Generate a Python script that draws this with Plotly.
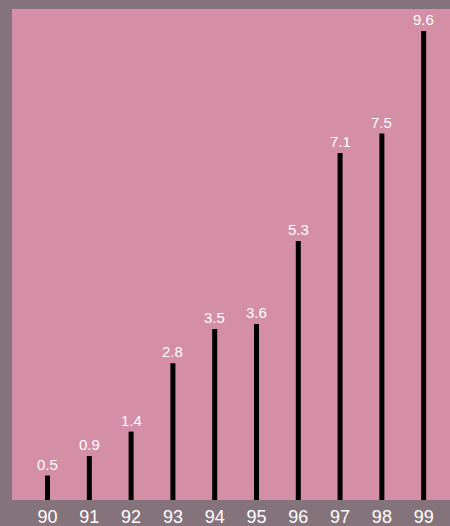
import plotly.graph_objects as go

# Yearly values, 1990-1999
years = [90, 91, 92, 93, 94, 95, 96, 97, 98, 99]
values = [0.5, 0.9, 1.4, 2.8, 3.5, 3.6, 5.3, 7.1, 7.5, 9.6]
tick_labels = ["90", "91", "92", "93", "94", "95", "96", "97", "98", "99"]

FONT = "Liberation Sans, Arial, Helvetica, sans-serif"

fig = go.Figure(
    go.Bar(
        x=years,
        y=values,
        width=0.12,
        marker=dict(color="#000000", line=dict(width=0)),
        hoverinfo="skip",
    )
)

# value labels sitting just above each bar
for yr, v in zip(years, values):
    fig.add_annotation(
        x=yr,
        y=v,
        text=f"{v:.1f}",
        showarrow=False,
        xanchor="center",
        yanchor="bottom",
        yshift=1,
        font=dict(color="#ffffff", size=15, family=FONT),
    )

fig.update_layout(
    width=450,
    height=526,
    margin=dict(l=12, r=0, t=9, b=26),
    paper_bgcolor="#85737b",
    plot_bgcolor="#d48ea6",
    showlegend=False,
    xaxis=dict(
        range=[89.15, 99.63],
        tickmode="array",
        tickvals=years,
        ticktext=tick_labels,
        showgrid=False,
        zeroline=False,
        showline=False,
        ticks="",
        ticklabelstandoff=4,
        tickfont=dict(color="#ffffff", size=18, family=FONT),
    ),
    yaxis=dict(
        range=[0, 10.05],
        visible=False,
        showgrid=False,
        zeroline=False,
    ),
)

fig.write_html("out.html")
